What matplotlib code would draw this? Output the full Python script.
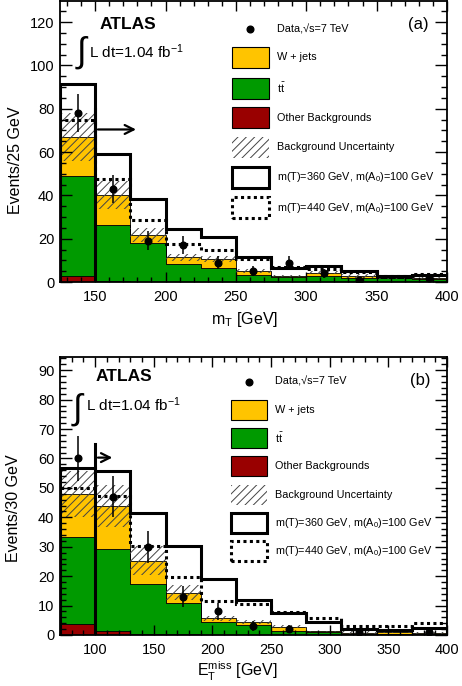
import numpy as np
import matplotlib
matplotlib.use("Agg")
import matplotlib.pyplot as plt
from matplotlib.patches import Rectangle
from matplotlib.ticker import MultipleLocator

plt.rcParams['font.family'] = ['Liberation Sans', 'DejaVu Sans']
plt.rcParams['mathtext.fontset'] = 'custom'
plt.rcParams['mathtext.rm'] = 'Liberation Sans'
plt.rcParams['mathtext.it'] = 'Liberation Sans:italic'
plt.rcParams['mathtext.bf'] = 'Liberation Sans:bold'
plt.rcParams['hatch.linewidth'] = 0.7

# ---- panel (a): m_T, 25 GeV bins ----
edges_a = np.arange(125, 401, 25)
other_a = [3.0, 0.4, 0.2, 0.2, 0.1, 0.1, 0.1, 0.1, 0.1, 0.05, 0.05]
ttbar_a = [45.9, 25.9, 17.6, 8.1, 6.2, 3.1, 2.4, 2.8, 1.9, 1.65, 1.45]
wjets_a = [18.1, 13.7, 3.9, 3.1, 4.3, 2.0, 0.3, 1.4, 0.9, 0.3, 0.3]
unc_a = [11.0, 6.4, 3.2, 1.6, 1.5, 1.0, 0.6, 0.6, 1.0, 0.4, 0.4]
sig360_a = [91.4, 59.1, 38.2, 24.3, 20.9, 11.7, 6.3, 7.5, 5.2, 2.9, 3.4]   # stacked on background
sig440_a = [74.8, 47.4, 28.6, 17.5, 14.8, 10.5, 6.8, 5.8, 4.8, 2.7, 3.9]
data_a = [78, 43, 19, 17, 9, 5, 9, 4, 1, 0, 2]
err_a = [8.8, 6.6, 4.4, 4.1, 3.0, 2.2, 3.0, 2.0, 1.0, 0.0, 1.4]

# ---- panel (b): E_T^miss, 30 GeV bins ----
edges_b = np.arange(70, 401, 30)
other_b = [3.7, 1.4, 0.3, 0.2, 0.1, 0.1, 0.1, 0.05, 0.05, 0.05, 0.05]
ttbar_b = [29.7, 28.0, 17.2, 10.6, 4.4, 3.3, 1.4, 1.05, 0.25, 0.15, 0.15]
wjets_b = [14.5, 14.4, 7.7, 3.6, 1.2, 1.1, 1.3, 0.1, 0.5, 0.7, 0.6]
unc_b = [7.8, 7.1, 4.9, 2.6, 0.8, 0.6, 0.5, 0.3, 0.4, 0.3, 0.3]
sig360_b = [56.6, 55.7, 41.5, 30.2, 18.9, 11.9, 7.4, 4.3, 2.0, 1.7, 2.3]
sig440_b = [49.8, 47.2, 30.2, 19.8, 11.7, 10.4, 7.7, 5.7, 3.2, 3.2, 4.2]
data_b = [60, 47, 30, 13, 8, 3, 2, 0, 1, 0, 1]
err_b = [7.7, 6.9, 5.5, 3.6, 2.8, 1.7, 1.4, 0.0, 1.0, 0.0, 1.0]

C_W = '#ffc400'
C_TT = '#009a00'
C_OTH = '#990000'
HATCH_C = '#444444'

W, H = 462, 686
fig = plt.figure(figsize=(W / 100, H / 100), dpi=100)


def draw_panel(ax, edges, other, ttbar, wjets, unc, s360, s440, data, err):
    other = np.array(other)
    c1 = other
    c2 = c1 + np.array(ttbar)
    c3 = c2 + np.array(wjets)
    unc = np.array(unc)
    ax.stairs(c1, edges, baseline=0, fill=True, facecolor=C_OTH,
              edgecolor='black', linewidth=0.6)
    ax.stairs(c2, edges, baseline=c1, fill=True, facecolor=C_TT,
              edgecolor='black', linewidth=0.6)
    ax.stairs(c3, edges, baseline=c2, fill=True, facecolor=C_W,
              edgecolor='black', linewidth=0.6)
    ax.stairs(c3 + unc, edges, baseline=c3 - unc, fill=True, facecolor='none',
              edgecolor=HATCH_C, hatch='////', linewidth=0)
    ax.stairs(s360, edges, color='black', linewidth=2.2)
    ax.stairs(s440, edges, color='black', linewidth=2.2, linestyle=(0, (1, 1.1)))
    centers = 0.5 * (edges[:-1] + edges[1:])
    data = np.array(data, dtype=float)
    err = np.array(err)
    m = data > 0
    ax.errorbar(centers[m], data[m], yerr=err[m], fmt='o', color='black',
                ms=4.8, elinewidth=1.1, capsize=0, zorder=5)


def style_axes(ax, xlim, ylim, ymaj, ymin):
    ax.set_xlim(*xlim)
    ax.set_ylim(*ylim)
    ax.xaxis.set_major_locator(MultipleLocator(50))
    ax.xaxis.set_minor_locator(MultipleLocator(10))
    ax.yaxis.set_major_locator(MultipleLocator(ymaj))
    ax.yaxis.set_minor_locator(MultipleLocator(ymin))
    ax.tick_params(which='both', direction='in', top=True, right=True,
                   labelsize=10.5, width=1)
    ax.tick_params(axis='x', which='major', length=7, pad=6)
    ax.tick_params(axis='x', which='minor', length=3.5)
    ax.tick_params(axis='y', which='major', length=8.5, pad=4)
    ax.tick_params(axis='y', which='minor', length=4.5)
    for sp in ax.spines.values():
        sp.set_linewidth(1.3)


def draw_legend(ax, xdot, ytxt, box_x, box_w, box_h, box_y, txt_x):
    ax.plot([xdot], [ytxt], 'o', color='black', ms=4.8, transform=ax.transAxes,
            clip_on=False)
    ax.text(txt_x, ytxt, 'Data,\u221as=7 TeV', transform=ax.transAxes,
            fontsize=7.8, va='center')
    labels = ['W + jets', r'$\mathrm{t}\bar{\mathrm{t}}$', 'Other Backgrounds',
              'Background Uncertainty', r'm(T)=360 GeV, m(A$_0$)=100 GeV',
              r'm(T)=440 GeV, m(A$_0$)=100 GeV']
    for i, lab in enumerate(labels):
        y0 = box_y[i] - box_h / 2
        if i == 0:
            p = Rectangle((box_x, y0), box_w, box_h, facecolor=C_W, edgecolor='black', lw=0.8)
        elif i == 1:
            p = Rectangle((box_x, y0), box_w, box_h, facecolor=C_TT, edgecolor='black', lw=0.8)
        elif i == 2:
            p = Rectangle((box_x, y0), box_w, box_h, facecolor=C_OTH, edgecolor='black', lw=0.8)
        elif i == 3:
            p = Rectangle((box_x, y0), box_w, box_h, facecolor='none', edgecolor=HATCH_C,
                          hatch='////', lw=0)
        elif i == 4:
            p = Rectangle((box_x, y0), box_w, box_h, facecolor='white', edgecolor='black', lw=2.2)
        else:
            p = Rectangle((box_x, y0), box_w, box_h, facecolor='white', edgecolor='black',
                          lw=2.2, linestyle=(0, (1, 1.1)))
        p.set_transform(ax.transAxes)
        p.set_clip_on(False)
        ax.add_patch(p)
        ax.text(txt_x, box_y[i], lab, transform=ax.transAxes, fontsize=7.8, va='center')


def draw_atlas(ax, xa, ya, xi, yi, xt, yt, tag, xtag, ytag):
    ax.text(xa, ya, 'ATLAS', transform=ax.transAxes, fontsize=12.5,
            fontweight='bold', va='center')
    ax.text(xi, yi, r'$\int$', transform=ax.transAxes, fontsize=25,
            va='center', ha='center')
    ax.text(xt, yt, r'L dt=1.04 fb$^{-1}$', transform=ax.transAxes,
            fontsize=11, va='center')
    ax.text(xtag, ytag, tag, transform=ax.transAxes, fontsize=12,
            va='center', ha='center')


# ---------- panel (a) ----------
ax1 = fig.add_axes([60 / W, 1 - 282 / H, 387 / W, 281 / H])
draw_panel(ax1, edges_a, other_a, ttbar_a, wjets_a, unc_a, sig360_a, sig440_a, data_a, err_a)
style_axes(ax1, (125, 400), (0, 129.7), 20, 5)
ax1.plot([150, 150], [0, 80], color='black', lw=2.2)
ax1.annotate('', xy=(181, 70.4), xytext=(150, 70.4),
             arrowprops=dict(arrowstyle='->', lw=1.6, mutation_scale=16, color='black'))
ax1.set_xlabel(r'm$_\mathrm{T}$ [GeV]', fontsize=11.5)
ax1.xaxis.set_label_coords(0.478, -0.135)
ax1.xaxis.label.set_va('center')
ax1.set_ylabel('Events/25 GeV', fontsize=11.5)
ax1.yaxis.set_label_coords(-0.116, 0.434)
ax1.yaxis.label.set_va('center')
draw_atlas(ax1, 0.103, 0.918, 0.057, 0.815, 0.074, 0.819, '(a)', 0.925, 0.915)
draw_legend(ax1, 0.491, 0.900, 0.4437, 0.0972, 0.0747,
            [0.799, 0.690, 0.585, 0.480, 0.372, 0.265], 0.560)

# ---------- panel (b) ----------
ax2 = fig.add_axes([60 / W, 1 - 635 / H, 387 / W, 278 / H])
draw_panel(ax2, edges_b, other_b, ttbar_b, wjets_b, unc_b, sig360_b, sig440_b, data_b, err_b)
style_axes(ax2, (70, 400), (0, 94.5), 10, 2)
ax2.plot([100, 100], [0, 65], color='black', lw=2.2)
ax2.annotate('', xy=(117, 60.3), xytext=(100, 60.3),
             arrowprops=dict(arrowstyle='->', lw=1.6, mutation_scale=16, color='black'))
ax2.set_xlabel(r'E$_\mathrm{T}^\mathrm{miss}$ [GeV]', fontsize=11.5)
ax2.xaxis.set_label_coords(0.459, -0.132)
ax2.xaxis.label.set_va('center')
ax2.set_ylabel('Events/30 GeV', fontsize=11.5)
ax2.yaxis.set_label_coords(-0.121, 0.457)
ax2.yaxis.label.set_va('center')
draw_atlas(ax2, 0.093, 0.929, 0.047, 0.812, 0.067, 0.827, '(b)', 0.930, 0.917)
draw_legend(ax2, 0.488, 0.911, 0.441, 0.0946, 0.072,
            [0.810, 0.710, 0.608, 0.505, 0.404, 0.303], 0.556)

fig.savefig('out.png', dpi=100, facecolor='white')
